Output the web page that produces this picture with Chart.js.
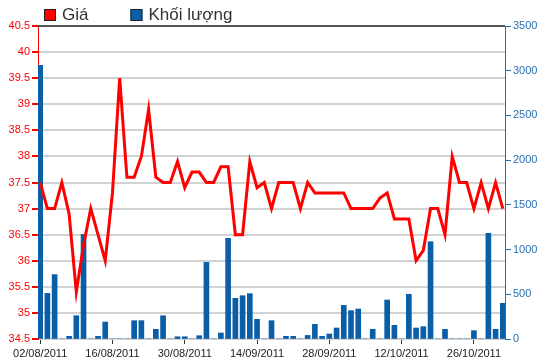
<!DOCTYPE html>
<html>
<head>
<meta charset="utf-8">
<script src="https://cdn.jsdelivr.net/npm/chart.js@4/dist/chart.umd.min.js"></script>
<style>
  html, body { margin: 0; padding: 0; background: #fff; }
  #wrap { width: 550px; height: 364px; }
</style>
</head>
<body>
<div id="wrap"><canvas id="c" width="550" height="364"></canvas></div>
<script>
// trading days, 02/08/2011 - 01/11/2011
const dates = [
  '02/08/2011','03/08/2011','04/08/2011','05/08/2011','08/08/2011','09/08/2011','10/08/2011','11/08/2011','12/08/2011','15/08/2011',
  '16/08/2011','17/08/2011','18/08/2011','19/08/2011','22/08/2011','23/08/2011','24/08/2011','25/08/2011','26/08/2011','29/08/2011',
  '30/08/2011','31/08/2011','01/09/2011','05/09/2011','06/09/2011','07/09/2011','08/09/2011','09/09/2011','12/09/2011','13/09/2011',
  '14/09/2011','15/09/2011','16/09/2011','19/09/2011','20/09/2011','21/09/2011','22/09/2011','23/09/2011','26/09/2011','27/09/2011',
  '28/09/2011','29/09/2011','30/09/2011','03/10/2011','04/10/2011','05/10/2011','06/10/2011','07/10/2011','10/10/2011','11/10/2011',
  '12/10/2011','13/10/2011','14/10/2011','17/10/2011','18/10/2011','19/10/2011','20/10/2011','21/10/2011','24/10/2011','25/10/2011',
  '26/10/2011','27/10/2011','28/10/2011','31/10/2011','01/11/2011'
];

const prices = [
  37.5, 37.0, 37.0, 37.5, 36.9, 35.4, 36.3, 37.0, 36.5, 36.0,
  37.3, 39.5, 37.6, 37.6, 38.0, 38.9, 37.6, 37.5, 37.5, 37.9,
  37.4, 37.7, 37.7, 37.5, 37.5, 37.8, 37.8, 36.5, 36.5, 37.9,
  37.4, 37.5, 37.0, 37.5, 37.5, 37.5, 37.0, 37.5, 37.3, 37.3,
  37.3, 37.3, 37.3, 37.0, 37.0, 37.0, 37.0, 37.2, 37.3, 36.8,
  36.8, 36.8, 36.0, 36.2, 37.0, 37.0, 36.5, 38.0, 37.5, 37.5,
  37.0, 37.5, 37.0, 37.5, 37.0
];

const volumes = [
  3060, 510, 720, 0, 30, 260, 1170, 0, 30, 190,
  0, 0, 0, 205, 205, 0, 108, 260, 0, 25,
  25, 0, 37, 857, 0, 67, 1126, 455, 484, 507,
  220, 0, 205, 0, 30, 30, 0, 40, 164, 30,
  56, 123, 376, 317, 335, 0, 108, 0, 436, 153,
  0, 500, 123, 138, 1088, 0, 108, 0, 0, 0,
  93, 0, 1182, 108, 399
];

const tickIndexes = [0, 10, 20, 30, 40, 50, 60];
const priceTicks = { min: 34.5, max: 40.5, step: 0.5 };
const volumeTicks = { min: 0, max: 3500, step: 500 };

const RED = '#ff0000';
const BLUE = '#0a5ea8';
const AXIS_BLUE = '#2a70b0';

Chart.defaults.font.family = '"Liberation Sans", Arial, sans-serif';
Chart.defaults.font.size = 11;

// small legend drawn by hand so it sits like the original, plus the dark top edge
const topLegend = {
  id: 'topLegend',
  afterDraw(chart) {
    const ctx = chart.ctx;
    const area = chart.chartArea;
    ctx.save();
    ctx.strokeStyle = '#555';
    ctx.lineWidth = 2;
    ctx.beginPath();
    ctx.moveTo(area.left, area.top);
    ctx.lineTo(area.right, area.top);
    ctx.stroke();

    ctx.font = '17px "Liberation Sans", Arial, sans-serif';
    ctx.textBaseline = 'middle';
    let x = 44;
    chart.data.datasets.forEach(ds => {
      ctx.fillStyle = ds.legendColor;
      ctx.fillRect(x, 9, 12, 12);
      ctx.strokeStyle = '#222';
      ctx.lineWidth = 1;
      ctx.strokeRect(x + 0.5, 9.5, 11, 11);
      ctx.fillStyle = '#333';
      ctx.fillText(ds.label, x + 18, 15);
      x += 18 + ctx.measureText(ds.label).width + 42;
    });
    ctx.restore();
  }
};

new Chart(document.getElementById('c'), {
  type: 'bar',
  data: {
    datasets: [
      {
        type: 'line',
        label: 'Giá',
        legendColor: RED,
        data: prices.map((p, i) => ({ x: i, y: p })),
        borderColor: RED,
        borderWidth: 3,
        pointRadius: 0,
        tension: 0,
        yAxisID: 'yPrice',
        order: 0
      },
      {
        type: 'bar',
        label: 'Khối lượng',
        legendColor: BLUE,
        data: volumes.map((v, i) => ({ x: i, y: v })),
        backgroundColor: BLUE,
        barThickness: 5,
        yAxisID: 'yVol',
        order: 1
      }
    ]
  },
  options: {
    responsive: false,
    animation: false,
    layout: { padding: { top: 26, left: 0, right: 0, bottom: 0 } },
    plugins: {
      legend: { display: false },
      tooltip: { enabled: false }
    },
    scales: {
      x: {
        type: 'linear',
        offset: false,
        min: -0.3,
        max: 64.3,
        afterBuildTicks: s => { s.ticks = tickIndexes.map(v => ({ value: v })); },
        afterFit: s => { s.height = 25; },
        grid: { offset: false, drawOnChartArea: false, tickColor: '#333', tickLength: 5 },
        border: { display: false },
        ticks: {
          autoSkip: false,
          maxRotation: 0,
          padding: 3,
          color: '#222',
          callback: v => dates[v]
        }
      },
      yPrice: {
        position: 'left',
        min: priceTicks.min,
        max: priceTicks.max,
        afterFit: s => { s.width = 38; },
        grid: {
          color: '#d2d2d2',
          lineWidth: 2,
          tickColor: RED,
          tickLength: 6
        },
        border: { color: RED, width: 1 },
        ticks: {
          stepSize: priceTicks.step,
          color: RED,
          padding: 2,
          callback: v => String(v)
        }
      },
      yVol: {
        position: 'right',
        min: volumeTicks.min,
        max: volumeTicks.max,
        afterFit: s => { s.width = 45; },
        grid: { drawOnChartArea: false, tickColor: AXIS_BLUE, tickLength: 6 },
        border: { color: AXIS_BLUE, width: 1 },
        ticks: {
          stepSize: volumeTicks.step,
          color: AXIS_BLUE,
          padding: 2,
          callback: v => String(v)
        }
      }
    }
  },
  plugins: [topLegend]
});
</script>
</body>
</html>
